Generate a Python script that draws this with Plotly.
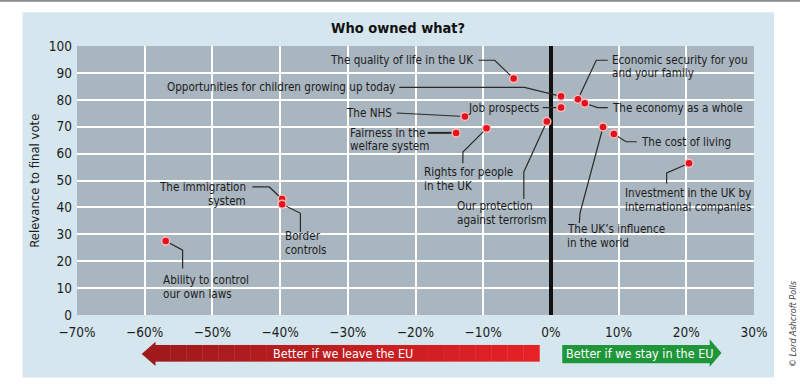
import plotly.graph_objects as go

# ---------------- data ----------------
items = [
    "The quality of life in the UK",
    "Opportunities for children growing up today",
    "The NHS",
    "Fairness in the welfare system",
    "Rights for people in the UK",
    "Job prospects",
    "Our protection against terrorism",
    "Economic security for you and your family",
    "The economy as a whole",
    "The cost of living",
    "Investment in the UK by international companies",
    "The UK's influence in the world",
    "The immigration system",
    "Border controls",
    "Ability to control our own laws",
]
net_score = [-5.5, 1.5, -12.7, -14.0, -9.5, 1.5, -0.6, 4.0, 5.0, 9.3, 20.4, 7.7, -39.7, -39.7, -56.9]
relevance = [87.9, 81.3, 73.8, 67.7, 69.4, 77.1, 71.9, 80.2, 78.7, 67.3, 56.4, 69.9, 43.1, 41.2, 27.5]

x_tickvals = [-70, -60, -50, -40, -30, -20, -10, 0, 10, 20, 30]
x_ticktext = ["\u221270%", "\u221260%", "\u221250%", "\u221240%", "\u221230%", "\u221220%",
              "\u221210%", "0%", "10%", "20%", "30%"]
y_tickvals = [0, 10, 20, 30, 40, 50, 60, 70, 80, 90, 100]

# ---------------- label layout (data units) ----------------
# each: list of (text line, x, y), xanchor, leader path (ends at the data point)
labels = [
    ([("The quality of life in the UK", -11.0, 94.7)], "right", [(-10.7, 94.7), (-8.3, 94.7)]),
    ([("Opportunities for children growing up today", -22.7, 84.6)], "right", [(-22.4, 84.6), (-3.9, 84.6)]),
    ([("The NHS", -23.2, 75.1)], "right", [(-22.8, 75.1)]),
    ([("Fairness in the", -29.9, 67.7), ("welfare system", -29.9, 62.8)], "left", [(-18.2, 67.7)]),
    ([("Rights for people", -19.0, 53.2), ("in the UK", -19.0, 48.0)], "left", [(-13.0, 56.4), (-13.0, 60.6)]),
    ([("Job prospects", -1.4, 77.1)], "right", [(-1.2, 77.1)]),
    ([("Our protection", -14.1, 40.5), ("against terrorism", -14.1, 35.3)], "left", [(-4.0, 43.1), (-4.0, 53.2)]),
    ([("Economic security for you", 8.7, 94.7), ("and your family", 8.7, 89.8)], "left", [(8.4, 94.7), (6.7, 94.7)]),
    ([("The economy as a whole", 8.7, 77.1)], "left", [(8.4, 77.1), (6.9, 77.1)]),
    ([("The cost of living", 13.0, 64.4)], "left", [(12.7, 64.4), (11.1, 64.4)]),
    ([("Investment in the UK by", 10.7, 45.3), ("international companies", 10.7, 40.1)], "left", [(17.1, 48.9), (17.1, 52.8)]),
    ([("The UK\u2019s influence", 2.1, 31.8), ("in the world", 2.1, 26.8)], "left", [(4.2, 34.2), (4.3, 37.9)]),
    ([("The immigration", -44.8, 47.6), ("system", -44.8, 42.3)], "right", [(-44.1, 47.6), (-41.6, 47.6)]),
    ([("Border", -39.6, 29.3), ("controls", -39.6, 24.1)], "left", [(-37.0, 30.9), (-37.0, 37.8)]),
    ([("Ability to control", -57.6, 13.0), ("our own laws", -57.6, 7.7)], "left", [(-54.4, 17.3), (-54.4, 24.1)]),
]

FONT = "DejaVu Sans Condensed, Liberation Sans Narrow, sans-serif"
TXT = "#1c1c1c"

fig = go.Figure()

# leader lines
for i, (lines, xa, path) in enumerate(labels):
    xs = [p[0] for p in path] + [net_score[i]]
    ys = [p[1] for p in path] + [relevance[i]]
    w = 2 if i == 3 else 1.2
    fig.add_trace(go.Scatter(x=xs, y=ys, mode="lines", line=dict(color="#2a2a2a", width=w),
                             hoverinfo="skip", showlegend=False))

# points
fig.add_trace(go.Scatter(
    x=net_score, y=relevance, mode="markers", text=items,
    marker=dict(color="#e0141e", size=8, line=dict(color="rgba(255,190,190,0.95)", width=1.5)),
    showlegend=False, hovertemplate="%{text}<br>%{x}%%, %{y}<extra></extra>"))

LBL = 11.6
annotations = []
for lines, xa, path in labels:
    for t, x, y in lines:
        annotations.append(dict(x=x, y=y, xref="x", yref="y", text=t, showarrow=False,
                                xanchor=xa, yanchor="middle",
                                font=dict(family=FONT, size=LBL, color=TXT)))

# title, axis title, arrows text, credit
annotations += [
    dict(x=0.474, y=1.066, xref="paper", yref="paper", text="<b>Who owned what?</b>",
         showarrow=False, xanchor="center", yanchor="middle",
         font=dict(family=FONT, size=14.5, color="#111")),
    dict(x=-0.063, y=0.5, xref="paper", yref="paper", text="Relevance to final vote",
         showarrow=False, textangle=-90, xanchor="center", yanchor="middle",
         font=dict(family=FONT, size=13, color=TXT)),
    dict(x=-30.7, y=-0.142, xref="x", yref="paper", text="Better if we leave the EU",
         showarrow=False, xanchor="center", yanchor="middle",
         font=dict(family=FONT, size=12.5, color="white")),
    dict(x=13.1, y=-0.142, xref="x", yref="paper", text="Better if we stay in the EU",
         showarrow=False, xanchor="center", yanchor="middle",
         font=dict(family=FONT, size=12.5, color="white")),
    dict(x=1.0576, y=-0.03, xref="paper", yref="paper", text="<i>\u00a9 Lord Ashcroft Polls</i>",
         showarrow=False, textangle=-90, xanchor="center", yanchor="middle",
         font=dict(family=FONT, size=9, color="#444")),
]

shapes = [
    # light-blue panel
    dict(type="rect", xref="paper", yref="paper", x0=-0.0804, x1=1.0296, y0=-0.2328, y1=1.1251,
         fillcolor="#d5e6ee", line=dict(width=0), layer="below"),
    # plot area
    dict(type="rect", xref="paper", yref="paper", x0=0, x1=1, y0=0, y1=1,
         fillcolor="#a9b5bf", line=dict(width=0), layer="below"),
    # grey top rule
    dict(type="line", xref="paper", yref="paper", x0=-0.2, x1=1.2, y0=1.168, y1=1.168,
         line=dict(color="#8a8a8a", width=2)),
]

# red arrow (gradient approximated by strips)
red_left, red_right = -58.6, -1.7
n = 24
c0 = (160, 26, 28)
c1 = (230, 34, 38)
for k in range(n):
    a = red_left + (red_right - red_left) * k / n
    b = red_left + (red_right - red_left) * (k + 1) / n + 0.05
    t = k / (n - 1)
    col = "rgb(%d,%d,%d)" % tuple(int(c0[j] + (c1[j] - c0[j]) * t) for j in range(3))
    shapes.append(dict(type="rect", xref="x", yref="paper", x0=a, x1=b, y0=-0.1734, y1=-0.1114,
                       fillcolor=col, line=dict(width=0), layer="above"))
shapes.append(dict(type="path", xref="x", yref="paper",
                   path="M -58.4,-0.0991 L -60.45,-0.1448 L -58.4,-0.1894 Z",
                   fillcolor="rgb(160,26,28)", line=dict(width=0), layer="above"))
# green arrow
shapes.append(dict(type="path", xref="x", yref="paper",
                   path="M 1.68,-0.1114 L 23.46,-0.1114 L 23.46,-0.0903 L 25.2,-0.141 "
                        "L 23.46,-0.192 L 23.46,-0.1794 L 1.68,-0.1794 Z",
                   fillcolor="#20963b", line=dict(width=0), layer="above"))

fig.update_layout(
    width=800, height=388,
    margin=dict(l=77.4, r=46, t=45.7, b=73, autoexpand=False),
    paper_bgcolor="white", plot_bgcolor="rgba(0,0,0,0)",
    font=dict(family=FONT, color=TXT),
    xaxis=dict(range=[-70, 30], tickvals=x_tickvals, ticktext=x_ticktext,
               showgrid=True, gridcolor="white", gridwidth=1.5,
               zeroline=True, zerolinecolor="#111", zerolinewidth=4,
               showline=False, ticks="", ticklabelstandoff=7,
               tickfont=dict(size=13.5, family=FONT, color=TXT),
               fixedrange=True),
    yaxis=dict(range=[0, 100], tickvals=y_tickvals,
               showgrid=True, gridcolor="white", gridwidth=1.5,
               zeroline=False, showline=False, ticks="", ticklabelstandoff=4,
               tickfont=dict(size=13.5, family=FONT, color=TXT), fixedrange=True),
    annotations=annotations, shapes=shapes, showlegend=False,
)

fig.write_html("out.html", config={"displayModeBar": False},
               post_script="document.body.style.margin='0px';")
